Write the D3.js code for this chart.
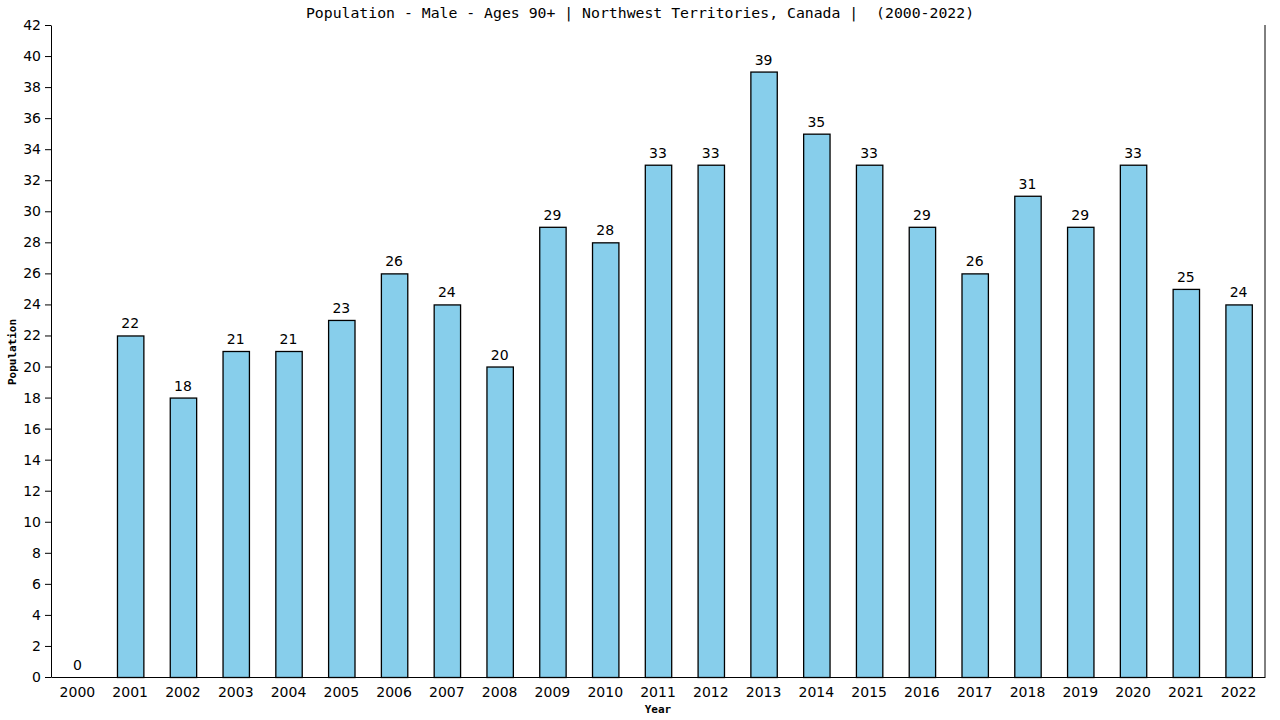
<!DOCTYPE html>
<html>
<head>
<meta charset="utf-8">
<script src="https://cdn.jsdelivr.net/npm/d3@7"></script>
<style>
  body { margin: 0; background: #fff; }
  .tick text { font-family: "DejaVu Sans", Verdana, sans-serif; font-size: 14px; fill: #000; }
  .domain, .tick line { stroke: #000; }
</style>
</head>
<body>
<div id="chart"></div>
<script>
// Chart data
const years = ["2000","2001","2002","2003","2004","2005","2006","2007","2008","2009","2010","2011",
               "2012","2013","2014","2015","2016","2017","2018","2019","2020","2021","2022"];
const population = [0,22,18,21,21,23,26,24,20,29,28,33,33,39,35,33,29,26,31,29,33,25,24];
const yTicks = d3.range(0, 43, 2);
const title = "Population - Male - Ages 90+ | Northwest Territories, Canada |  (2000-2022)";

// Dimensions
const margin = { top: 25, right: 15, bottom: 43, left: 51 },
      width = 1280 - margin.left - margin.right,
      height = 720 - margin.top - margin.bottom;

const root = d3.select("#chart")
    .append("svg")
    .attr("width", 1280)
    .attr("height", 720);

const svg = root.append("g")
    .attr("transform", `translate(${margin.left},${margin.top})`);

// Scales
const x = d3.scaleBand()
    .domain(years)
    .range([0, width])
    .paddingInner(0.5)
    .paddingOuter(0.25);

const y = d3.scaleLinear()
    .domain([0, 42])
    .range([height, 0]);

// Bars
svg.selectAll(".bar")
    .data(years)
    .enter()
    .append("rect")
    .attr("class", "bar")
    .attr("x", (d, i) => x(d) + 0.5)
    .attr("y", (d, i) => y(population[i]) + 0.5)
    .attr("width", x.bandwidth())
    .attr("height", (d, i) => height - y(population[i]))
    .attr("fill", "#87ceeb")
    .attr("stroke", (d, i) => population[i] === 0 ? "#4a9fc0" : "#000")
    .attr("stroke-width", 1.3);

// Value labels
svg.selectAll(".val")
    .data(years)
    .enter()
    .append("text")
    .attr("class", "val")
    .attr("x", d => x(d) + x.bandwidth() / 2)
    .attr("y", (d, i) => y(population[i]) - 7)
    .attr("text-anchor", "middle")
    .style("font-family", "'DejaVu Sans', Verdana, sans-serif")
    .style("font-size", "14px")
    .text((d, i) => population[i]);

// Axes
svg.append("g")
    .attr("transform", `translate(0,${height})`)
    .call(d3.axisBottom(x).tickSize(0).tickPadding(7))
    .call(g => g.selectAll(".tick text").attr("dy", "0.9em"));

svg.append("g")
    .call(d3.axisLeft(y).tickValues(yTicks).tickSize(6).tickPadding(4).tickSizeOuter(0));

// Right border
svg.append("line")
    .attr("x1", width).attr("x2", width)
    .attr("y1", 0).attr("y2", height)
    .attr("stroke", "#000");

// Title
root.append("text")
    .attr("x", 640)
    .attr("y", 18)
    .attr("text-anchor", "middle")
    .style("white-space", "pre")
    .style("font-family", "'DejaVu Sans Mono', monospace")
    .style("font-size", "14.8px")
    .text(title);

// Axis labels
root.append("text")
    .attr("x", margin.left + width / 2)
    .attr("y", 713)
    .attr("text-anchor", "middle")
    .style("font-family", "'DejaVu Sans Mono', monospace")
    .style("font-size", "11px")
    .style("font-weight", "bold")
    .text("Year");

root.append("text")
    .attr("transform", "translate(16,352) rotate(-90)")
    .attr("text-anchor", "middle")
    .style("font-family", "'DejaVu Sans Mono', monospace")
    .style("font-size", "11px")
    .style("font-weight", "bold")
    .text("Population");
</script>
</body>
</html>
